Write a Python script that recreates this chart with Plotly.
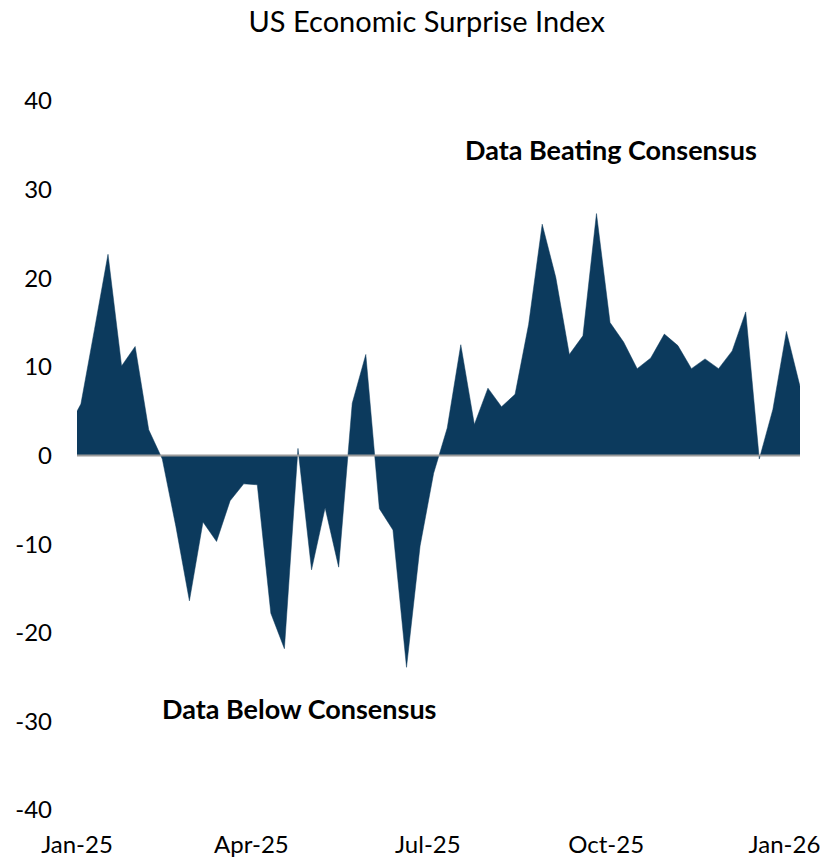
import pandas as pd
import plotly.graph_objects as go

# Weekly readings (Fridays), starting the last week of 2024
start_date = "2024-12-27"
surprise_index = [
    3.0,
    5.8, 14.2, 22.7, 10.1, 12.3, 2.9, -0.4, -8.0, -16.4, -7.5,
    -9.7, -5.1, -3.2, -3.3, -17.8, -21.8, 0.8, -12.9, -5.9, -12.6,
    5.9, 11.4, -6.0, -8.4, -23.9, -10.2, -2.0, 3.1, 12.5, 3.5,
    7.6, 5.5, 6.9, 14.8, 26.1, 20.1, 11.4, 13.5, 27.3, 15.0,
    12.8, 9.8, 11.0, 13.7, 12.4, 9.8, 10.9, 9.8, 11.8, 16.2,
    -0.4, 5.2, 14.0, 7.8,
]
dates = pd.date_range(start_date, periods=len(surprise_index), freq="7D")

tick_dates = ["2025-01-01", "2025-04-01", "2025-07-01", "2025-10-01", "2026-01-01"]
tick_labels = ["Jan-25", "Apr-25", "Jul-25", "Oct-25", "Jan-26"]
y_ticks = [40, 30, 20, 10, 0, -10, -20, -30, -40]

NAVY = "#0c3a5d"
FONT = "Lato"

fig = go.Figure()
fig.add_trace(go.Scatter(
    x=dates, y=surprise_index,
    mode="lines", fill="tozeroy",
    line=dict(color=NAVY, width=0.5),
    fillcolor=NAVY,
    hoverinfo="x+y",
))

# zero reference line drawn over the area
fig.add_shape(type="line", xref="paper", yref="y", x0=0, x1=1, y0=0, y1=0,
              line=dict(color="#9a9a9a", width=2), layer="above")

fig.add_annotation(text="<b>Data Beating Consensus</b>", xref="paper", yref="paper",
                   x=0.739, y=0.932, xanchor="center", yanchor="middle", showarrow=False,
                   font=dict(family=FONT, size=27, color="#000000"))
fig.add_annotation(text="<b>Data Below Consensus</b>", xref="paper", yref="paper",
                   x=0.307, y=0.1425, xanchor="center", yanchor="middle", showarrow=False,
                   font=dict(family=FONT, size=27, color="#000000"))

fig.update_layout(
    width=827, height=865,
    margin=dict(l=77, r=27, t=101, b=55, autoexpand=False),
    paper_bgcolor="white", plot_bgcolor="white",
    showlegend=False,
    font=dict(family=FONT, size=24, color="#000000"),
    title=dict(text="US Economic Surprise Index", x=0.516, xref="container",
               xanchor="center", y=1 - 22 / 865, yref="container", yanchor="middle",
               font=dict(family=FONT, size=29, color="#000000")),
    xaxis=dict(
        range=["2025-01-01", "2026-01-09"],
        tickvals=tick_dates, ticktext=tick_labels,
        showgrid=False, zeroline=False, showline=False,
        ticks="", ticklabelstandoff=18, automargin=False,
        tickfont=dict(family=FONT, size=24),
    ),
    yaxis=dict(
        range=[-40, 40],
        tickvals=y_ticks, ticktext=[str(v) for v in y_ticks],
        showgrid=False, zeroline=False, showline=False,
        ticks="", ticklabelstandoff=24, automargin=False,
        tickfont=dict(family=FONT, size=24),
    ),
)

fig.write_html("out.html")
